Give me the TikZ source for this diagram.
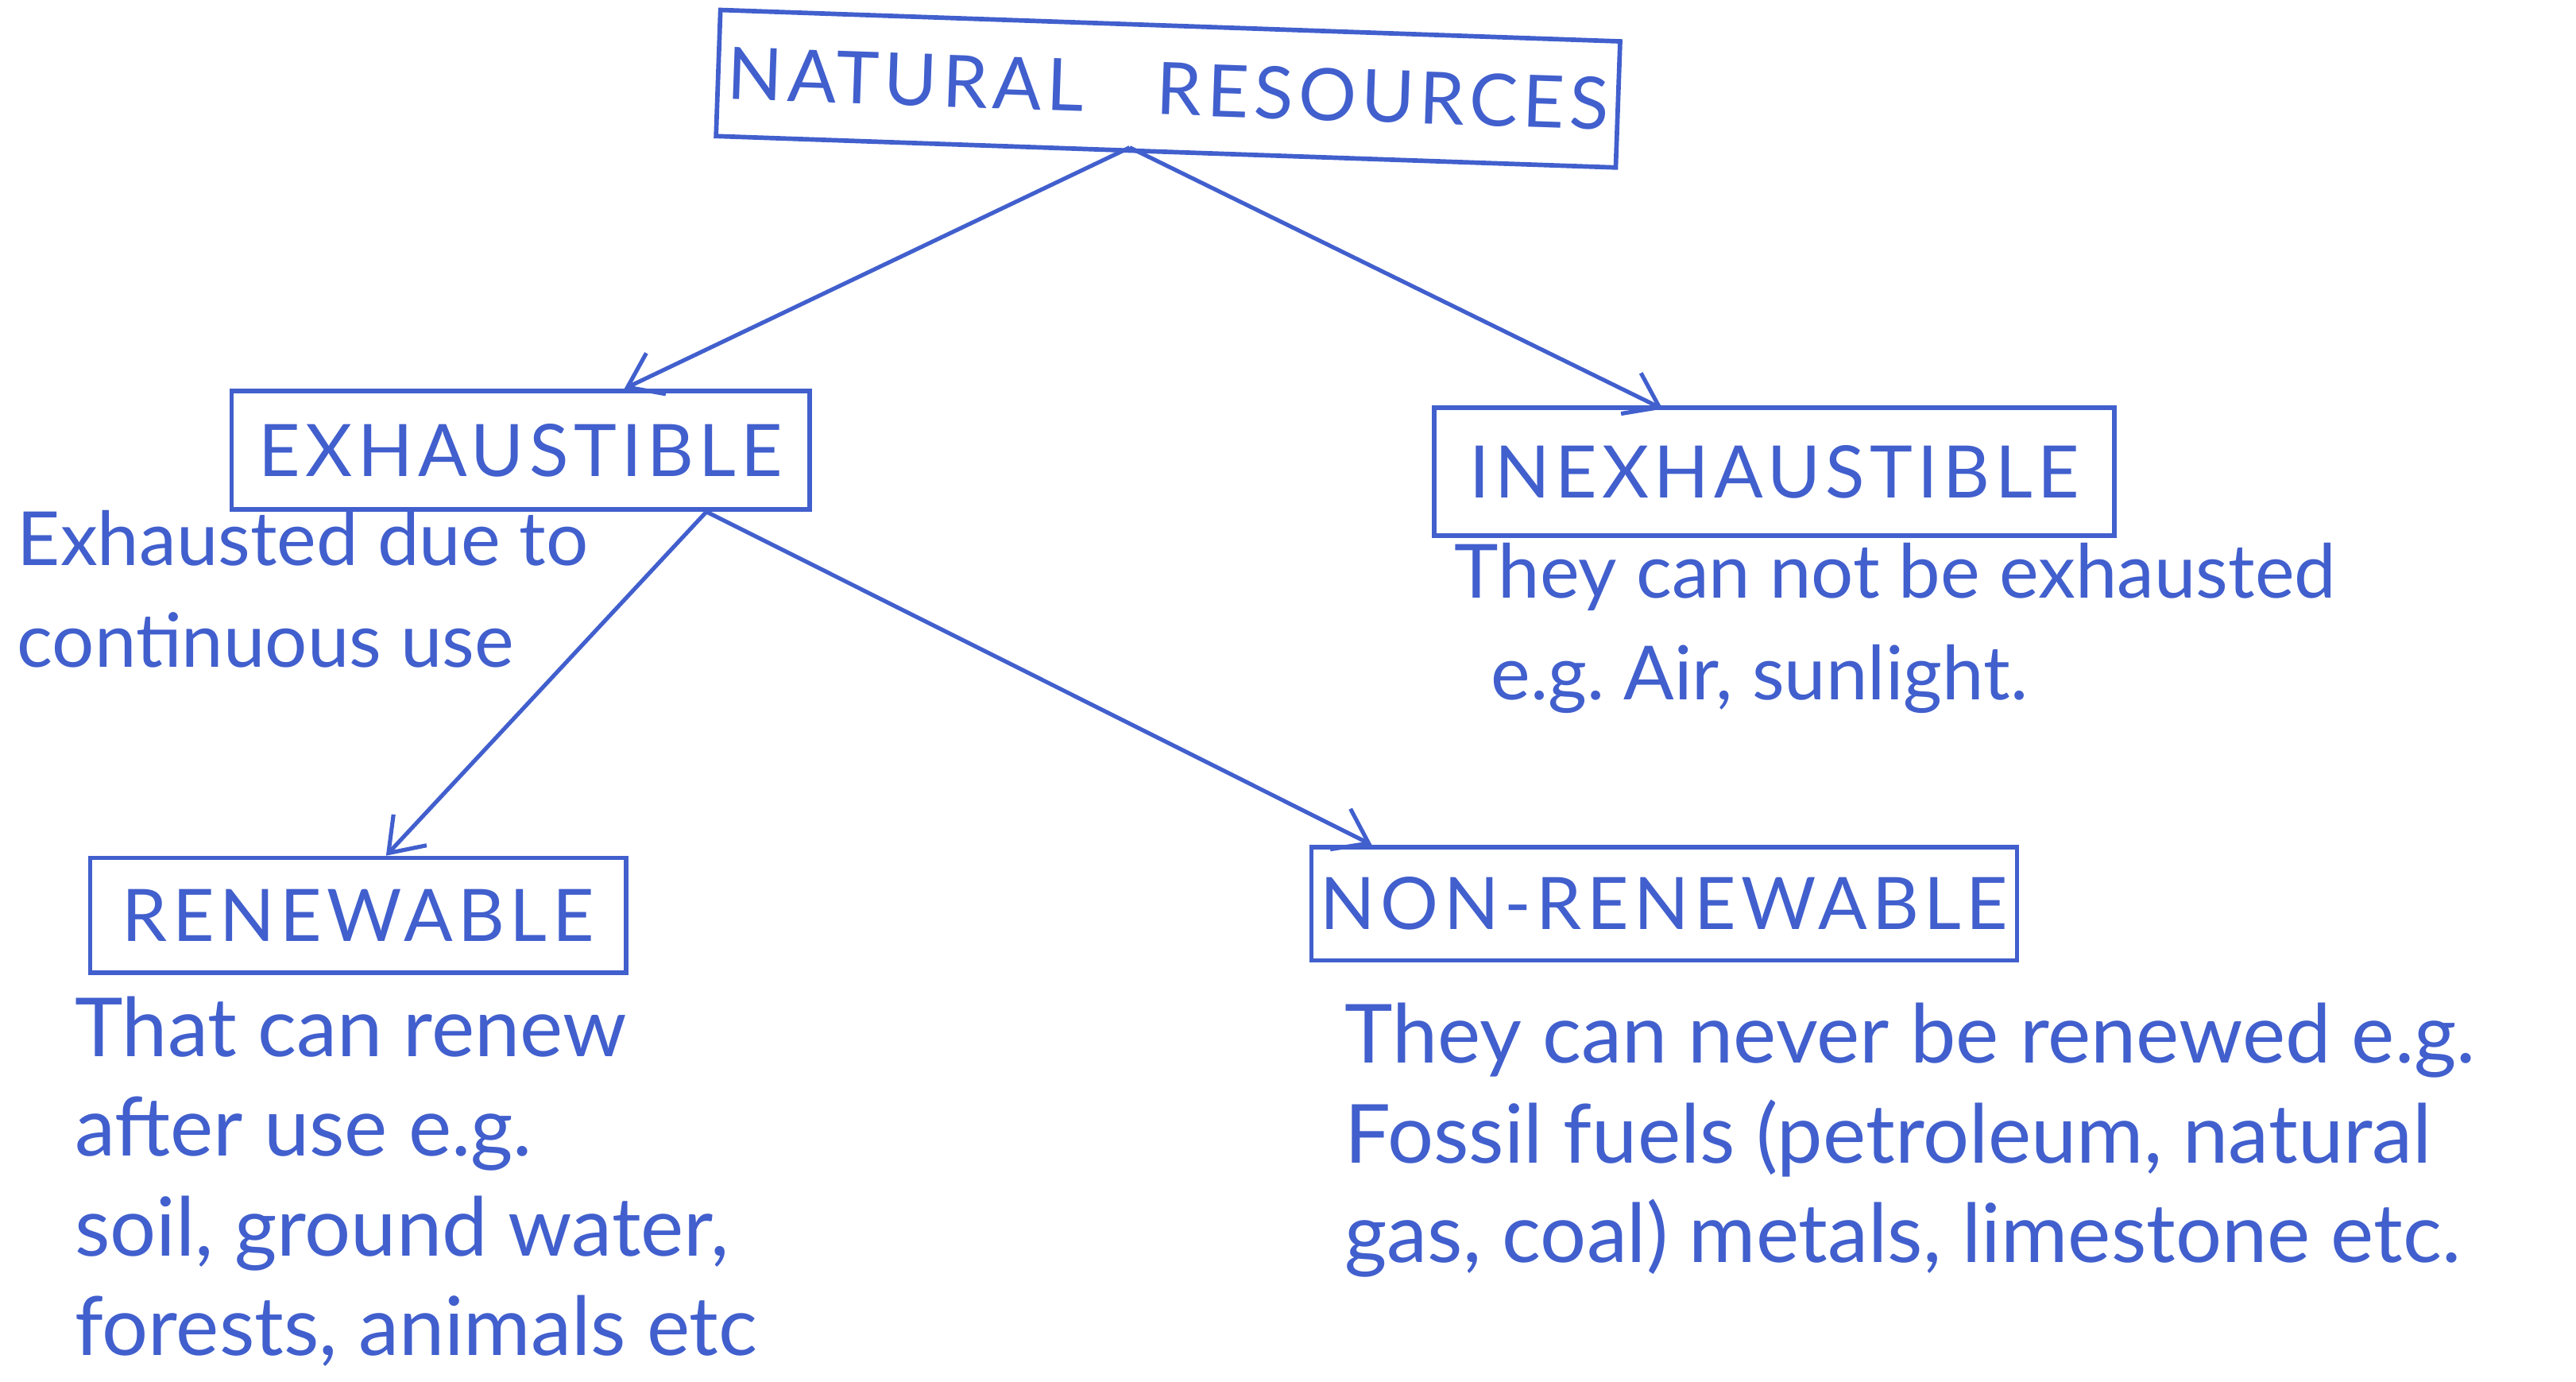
\documentclass[tikz,border=0pt]{standalone}
\usepackage{fontspec}
\setmainfont{Lato}
\usetikzlibrary{arrows.meta,calc}
\definecolor{pen}{RGB}{65,95,205}
\begin{document}
\begin{tikzpicture}[x=0.012755cm,y=-0.012755cm,
  box/.style={draw=pen,line width=1pt,text=pen,inner sep=0pt,
    font=\fontsize{16}{19}\selectfont\addfontfeatures{LetterSpace=7}},
  note/.style={text=pen,anchor=north west,align=left,inner sep=0pt,
    font=\fontsize{16.5}{22.5}\selectfont},
  bignote/.style={note,font=\fontsize{18}{22}\selectfont},
  link/.style={draw=pen,line width=0.9pt,-{Straight Barb[length=7pt,width=10pt]}}]
\fill[white] (0,0) rectangle (1568,841);
\useasboundingbox (0,0) rectangle (1568,841);
% boxes
\node[box,minimum width=6.99cm,minimum height=0.98cm,rotate=-2] (nr) at (711,54) {NATURAL\quad RESOURCES};
\node[box,minimum width=4.49cm,minimum height=0.92cm] (exh) at (317,274) {EXHAUSTIBLE};
\node[box,minimum width=5.28cm,minimum height=0.99cm] (inexh) at (1080,287) {INEXHAUSTIBLE};
\node[box,minimum width=4.16cm,minimum height=0.89cm] (ren) at (218,557) {RENEWABLE};
\node[box,minimum width=5.48cm,minimum height=0.88cm] (nonren) at (1013,550) {NON-RENEWABLE};
% connectors
\draw[link] ($(nr.south)+(-22,-4)$) -- ($(exh.north)+(63,0)$);
\draw[link] ($(nr.south)+(-22,-4)$) -- ($(inexh.north)+(-68,2)$);
\draw[link] ($(exh.south)+(113,0)$) -- ($(ren.north)+(17,0)$);
\draw[link] ($(exh.south)+(113,0)$) -- ($(nonren.north)+(-178,0)$);
% notes
\node[note] (n1) at (10,310) {Exhausted due to\\continuous use};
\node[note] (n2) at (885,330) {They can not be exhausted\\\hspace*{20\pgflinewidth}e.g.\ Air, sunlight.};
\node[bignote] (n3) at (45,606) {That can renew\\after use e.g.\\soil, ground water,\\forests, animals etc};
\node[bignote] (n4) at (818,610) {They can never be renewed e.g.\\Fossil fuels (petroleum, natural\\gas, coal) metals, limestone etc.};
\end{tikzpicture}
\end{document}
